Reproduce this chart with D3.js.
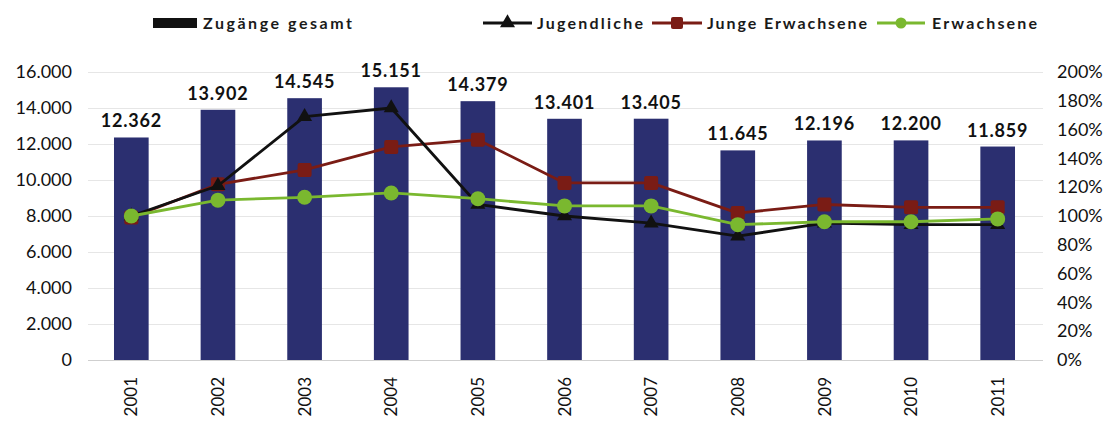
<!DOCTYPE html>
<html>
<head>
<meta charset="utf-8">
<script src="https://cdn.jsdelivr.net/npm/d3@7"></script>
<style>
  html, body { margin: 0; padding: 0; background: #fff; }
  svg { display: block; }
</style>
</head>
<body>
<svg id="chart" width="1109" height="430"></svg>
<script>
// Jahre und Zugänge
const years = ["2001","2002","2003","2004","2005","2006","2007","2008","2009","2010","2011"];
const zugaenge = [12362, 13902, 14545, 15151, 14379, 13401, 13405, 11645, 12196, 12200, 11859];

// Index (2001 = 100 %) je Altersgruppe
const jugendliche = [100, 121, 169, 175, 108, 100, 95, 86, 95, 94, 94];
const jungeErwachsene = [99, 122, 132, 148, 153, 123, 123, 102, 108, 106, 106];
const erwachsene = [100, 111, 113, 116, 112, 107, 107, 94, 96, 96, 98];

// Achsenbeschriftungen
const leftTicks = [0, 2000, 4000, 6000, 8000, 10000, 12000, 14000, 16000];
const rightTicks = [0, 20, 40, 60, 80, 100, 120, 140, 160, 180, 200];

const legendLabels = ["Zugänge gesamt", "Jugendliche", "Junge Erwachsene", "Erwachsene"];

const svg = d3.select("#chart");
const font = "Lato, 'Open Sans', sans-serif";

const plot = { left: 88, right: 1041, top: 72, bottom: 360 };

const x = d3.scaleBand().domain(years).range([plot.left, plot.right])
  .paddingInner(0.6).paddingOuter(0.3);
const yL = d3.scaleLinear().domain([0, 16000]).range([plot.bottom, plot.top]);
const yR = d3.scaleLinear().domain([0, 200]).range([plot.bottom, plot.top]);

const fmt = d3.formatLocale({ decimal: ",", thousands: ".", grouping: [3], currency: ["", "€"] }).format(",d");

// Gitterlinien
svg.append("g").selectAll("line").data(leftTicks).join("line")
  .attr("x1", plot.left).attr("x2", plot.right + 2)
  .attr("y1", d => Math.round(yL(d)) + 0.5).attr("y2", d => Math.round(yL(d)) + 0.5)
  .attr("stroke", d => d === 0 ? "#cfcfcf" : "#e6e6e6").attr("stroke-width", 1);

// Linke Achse
const axL = svg.append("g").attr("transform", `translate(${plot.left - 16},0)`)
  .call(d3.axisLeft(yL).tickValues(leftTicks).tickFormat(fmt).tickSize(0).tickPadding(0));
axL.select(".domain").remove();
axL.selectAll("text").attr("font-family", font).attr("font-size", 18).attr("fill", "#111");

// Rechte Achse
const axR = svg.append("g").attr("transform", `translate(${plot.right + 16},0)`)
  .call(d3.axisRight(yR).tickValues(rightTicks).tickFormat(d => d + "%").tickSize(0).tickPadding(0));
axR.select(".domain").remove();
axR.selectAll("text").attr("font-family", font).attr("font-size", 18).attr("fill", "#111");

// Jahresachse (senkrechte Beschriftung)
const axX = svg.append("g").attr("transform", `translate(0,${plot.bottom})`)
  .call(d3.axisBottom(x).tickSize(0).tickPadding(0));
axX.select(".domain").remove();
axX.selectAll("text")
  .attr("font-family", font).attr("font-size", 17).attr("fill", "#111")
  .attr("transform", "rotate(-90)")
  .attr("x", -17).attr("y", 0).attr("dy", "0.36em")
  .attr("text-anchor", "end");

// Säulen
svg.append("g").selectAll("rect").data(years).join("rect")
  .attr("x", d => x(d)).attr("width", x.bandwidth())
  .attr("y", (d, i) => yL(zugaenge[i]))
  .attr("height", (d, i) => yL(0) - yL(zugaenge[i]))
  .attr("fill", "#2b2f70");

// Wertbeschriftung
svg.append("g").selectAll("text").data(years).join("text")
  .attr("x", d => x(d) + x.bandwidth() / 2)
  .attr("y", (d, i) => yL(zugaenge[i]) - 10)
  .attr("text-anchor", "middle")
  .attr("font-family", font).attr("font-size", 18).attr("font-weight", "bold")
  .attr("letter-spacing", 0.8)
  .attr("fill", "#111")
  .text((d, i) => fmt(zugaenge[i]));

const cx = d => x(d) + x.bandwidth() / 2;
const line = d3.line().x((d, i) => cx(years[i])).y(d => yR(d));

const series = [
  { values: jungeErwachsene, color: "#7a1c15", marker: "square", size: 14 },
  { values: jugendliche, color: "#111111", marker: "triangle", size: 14 },
  { values: erwachsene, color: "#7ab82f", marker: "circle", size: 15 }
];

function drawMarker(g, type, color, px, py, s) {
  if (type === "square") {
    g.append("rect").attr("x", px - s / 2).attr("y", py - s / 2)
      .attr("width", s).attr("height", s).attr("rx", 2).attr("fill", color);
  } else if (type === "triangle") {
    g.append("path").attr("d", d3.symbol(d3.symbolTriangle, s * s * 0.5)())
      .attr("transform", `translate(${px},${py})`).attr("fill", color);
  } else {
    g.append("circle").attr("cx", px).attr("cy", py).attr("r", s / 2).attr("fill", color);
  }
}

series.forEach(s => {
  const g = svg.append("g");
  g.append("path").datum(s.values).attr("d", line)
    .attr("fill", "none").attr("stroke", s.color).attr("stroke-width", 2.8)
    .attr("stroke-linejoin", "round");
  s.values.forEach((v, i) => drawMarker(g, s.marker, s.color, cx(years[i]), yR(v), s.size));
});

// Legende
const lg = svg.append("g").attr("font-family", font).attr("font-size", 16)
  .attr("font-weight", "bold").attr("fill", "#1a1a1a");
const legendY = 23;
lg.append("rect").attr("x", 153).attr("y", 18).attr("width", 44).attr("height", 10).attr("fill", "#111");
lg.append("text").attr("x", 203).attr("y", legendY + 6).text(legendLabels[0])
  .attr("textLength", 149).attr("lengthAdjust", "spacing");

const legendItems = [
  { x0: 483, x1: 532, color: "#111111", marker: "triangle", tx: 537, tw: 106, label: legendLabels[1], size: 14 },
  { x0: 652, x1: 702, color: "#7a1c15", marker: "square", tx: 707, tw: 160, label: legendLabels[2], size: 12 },
  { x0: 877, x1: 925, color: "#7ab82f", marker: "circle", tx: 932, tw: 105, label: legendLabels[3], size: 11 }
];
legendItems.forEach(it => {
  lg.append("line").attr("x1", it.x0).attr("x2", it.x1).attr("y1", legendY).attr("y2", legendY)
    .attr("stroke", it.color).attr("stroke-width", 3);
  drawMarker(lg, it.marker, it.color, (it.x0 + it.x1) / 2, legendY, it.size);
  lg.append("text").attr("x", it.tx).attr("y", legendY + 6).text(it.label)
    .attr("textLength", it.tw).attr("lengthAdjust", "spacing");
});
</script>
</body>
</html>
